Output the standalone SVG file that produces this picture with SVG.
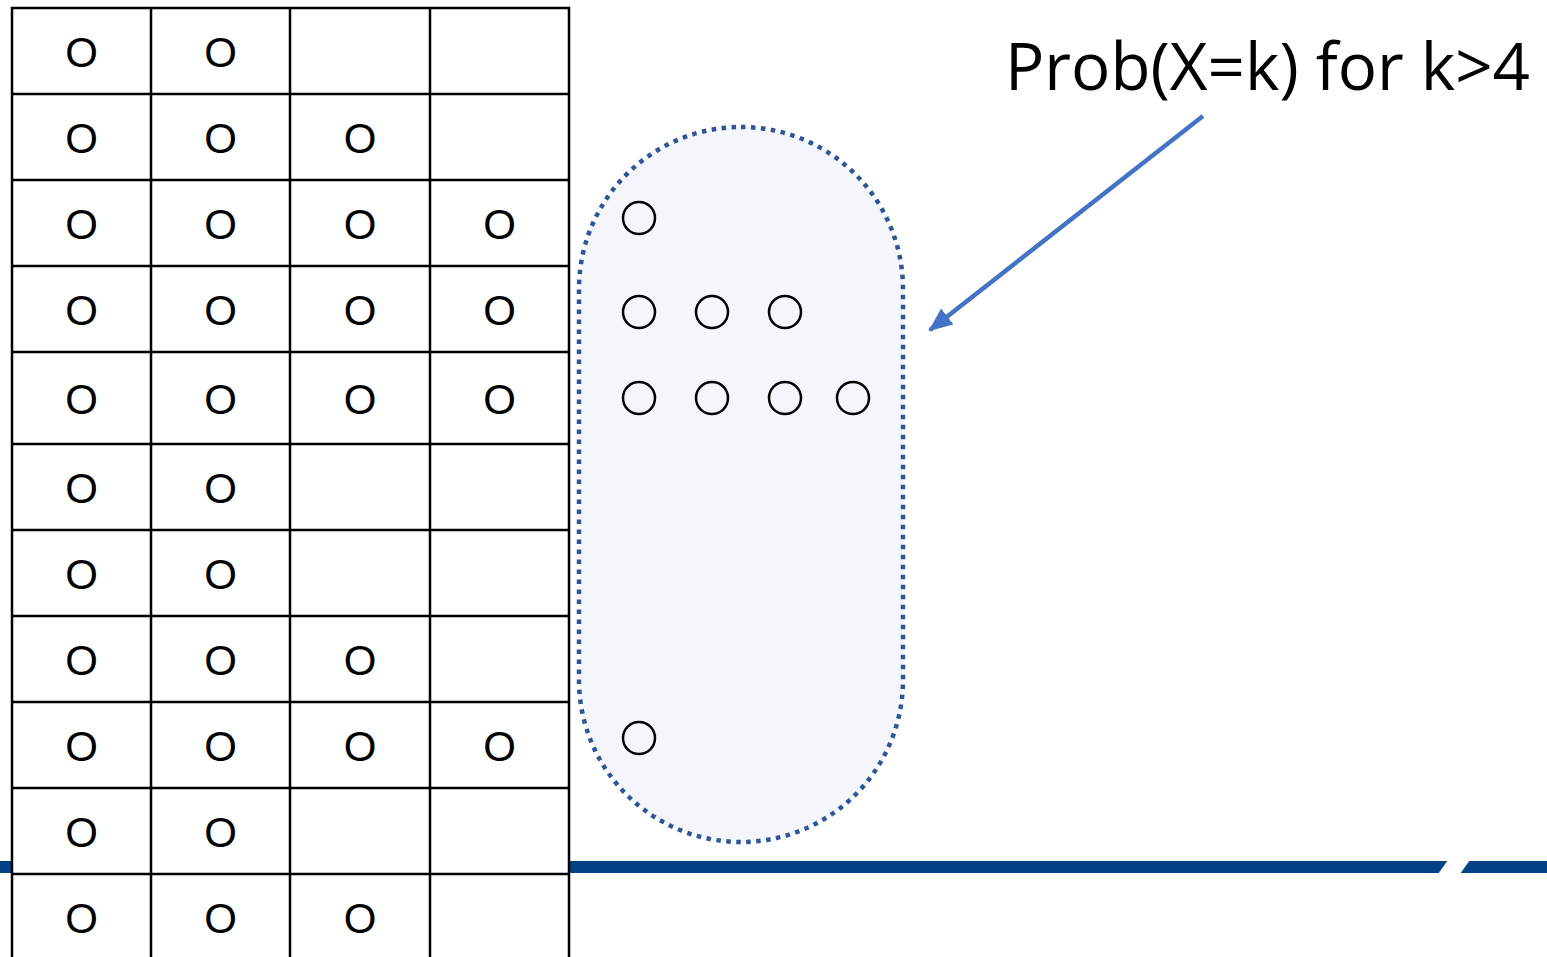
<svg xmlns="http://www.w3.org/2000/svg" width="1547" height="957" viewBox="0 0 1547 957">
<style>
.cell{fill:#fff;stroke:#000;stroke-width:2.5}
.o{font-family:"Liberation Sans",Arial,sans-serif;font-size:42px;fill:#000;text-anchor:middle}
.dot{fill:none;stroke:#000;stroke-width:2.5}
.lbl{font-family:"Open Sans","Liberation Sans",sans-serif;font-size:66px;fill:#000}
</style>
<defs>
<marker id="ah" markerUnits="userSpaceOnUse" markerWidth="26" markerHeight="22" refX="22" refY="10" orient="auto">
<path d="M0,0 L24,10 L0,20 Z" fill="#4472c4"/>
</marker>
</defs>
<rect x="0" y="0" width="1547" height="957" fill="#fff"/>
<g id="baseline">
<rect x="0" y="861" width="1547" height="12" fill="#034383"/>
<polygon points="1448,860 1470,860 1460,874 1438,874" fill="#fff"/>
</g>
<g id="table">
<g fill="#fff" stroke="#000" stroke-width="2.5">
<rect x="12" y="8" width="557" height="960"/>
<line x1="151" y1="8" x2="151" y2="960"/>
<line x1="290" y1="8" x2="290" y2="960"/>
<line x1="430" y1="8" x2="430" y2="960"/>
<line x1="12" y1="94" x2="569" y2="94"/>
<line x1="12" y1="180" x2="569" y2="180"/>
<line x1="12" y1="266" x2="569" y2="266"/>
<line x1="12" y1="352" x2="569" y2="352"/>
<line x1="12" y1="444" x2="569" y2="444"/>
<line x1="12" y1="530" x2="569" y2="530"/>
<line x1="12" y1="616" x2="569" y2="616"/>
<line x1="12" y1="702" x2="569" y2="702"/>
<line x1="12" y1="788" x2="569" y2="788"/>
<line x1="12" y1="874" x2="569" y2="874"/>
</g>
<g class="o">
<text x="81.5" y="67">O</text><text x="220.5" y="67">O</text>
<text x="81.5" y="153">O</text><text x="220.5" y="153">O</text><text x="360" y="153">O</text>
<text x="81.5" y="239">O</text><text x="220.5" y="239">O</text><text x="360" y="239">O</text><text x="499.5" y="239">O</text>
<text x="81.5" y="325">O</text><text x="220.5" y="325">O</text><text x="360" y="325">O</text><text x="499.5" y="325">O</text>
<text x="81.5" y="414">O</text><text x="220.5" y="414">O</text><text x="360" y="414">O</text><text x="499.5" y="414">O</text>
<text x="81.5" y="503">O</text><text x="220.5" y="503">O</text>
<text x="81.5" y="589">O</text><text x="220.5" y="589">O</text>
<text x="81.5" y="675">O</text><text x="220.5" y="675">O</text><text x="360" y="675">O</text>
<text x="81.5" y="761">O</text><text x="220.5" y="761">O</text><text x="360" y="761">O</text><text x="499.5" y="761">O</text>
<text x="81.5" y="847">O</text><text x="220.5" y="847">O</text>
<text x="81.5" y="933">O</text><text x="220.5" y="933">O</text><text x="360" y="933">O</text>
</g>
</g>
<g id="pill">
<rect x="579" y="127" width="324" height="715" rx="162" ry="162" fill="#f5f6fb" stroke="#2f5597" stroke-width="4.5" stroke-dasharray="4.5 5.5"/>
<circle class="dot" cx="639" cy="218" r="16"/>
<circle class="dot" cx="639" cy="312" r="16"/>
<circle class="dot" cx="712" cy="312" r="16"/>
<circle class="dot" cx="785" cy="312" r="16"/>
<circle class="dot" cx="639" cy="398" r="16"/>
<circle class="dot" cx="712" cy="398" r="16"/>
<circle class="dot" cx="785" cy="398" r="16"/>
<circle class="dot" cx="853" cy="398" r="16"/>
<circle class="dot" cx="639" cy="738" r="16"/>
</g>
<g id="label">
<text class="lbl" x="1005" y="90" textLength="525" lengthAdjust="spacingAndGlyphs">Prob(X=k) for k&gt;4</text>
</g>
<g id="connectors">
<line x1="1203" y1="116" x2="930" y2="330" stroke="#4472c4" stroke-width="4.5" marker-end="url(#ah)"/>
</g>
</svg>
